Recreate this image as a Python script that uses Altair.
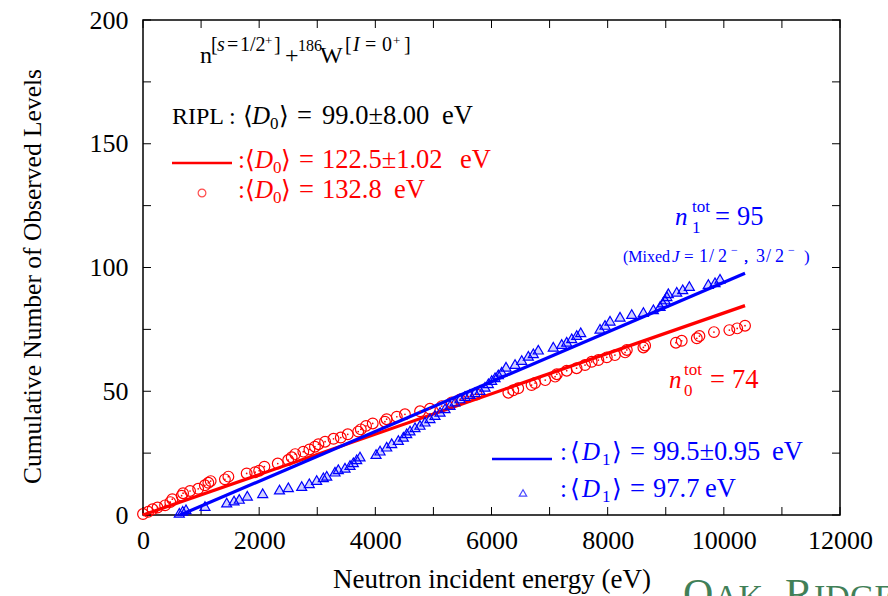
import altair as alt
import pandas as pd

# ---------------- data ----------------
red_E = [0, 90, 165, 250, 380, 470, 505, 665, 690, 810, 950, 1065, 1125, 1165, 1410, 1470,
         1785, 1930, 2000, 2090, 2320, 2500, 2560, 2620, 2760, 2865, 2960, 3020, 3135, 3280,
         3405, 3525, 3705, 3750, 3840, 3955, 4165, 4195, 4370, 4510, 4770, 4940, 5145, 5315,
         5460, 5600, 5745, 6290, 6375, 6460, 6690, 6750, 6925, 7095, 7125, 7295, 7465, 7610,
         7725, 7840, 7985, 8125, 8300, 8330, 8615, 8645, 9175, 9275, 9535, 9580, 9830, 10095,
         10230, 10365]
red_N = [0.4, 1.3, 2.3, 3.0, 3.9, 5.2, 6.4, 7.8, 8.8, 9.7, 10.6, 12.0, 13.0, 13.7, 14.4, 15.5,
         16.8, 17.3, 17.9, 19.5, 20.8, 22.2, 23.3, 24.6, 25.6, 26.5, 27.6, 28.6, 29.6, 30.8,
         31.3, 32.6, 33.7, 34.6, 36.0, 37.0, 37.7, 38.7, 39.7, 40.7, 41.9, 42.9, 44.0, 45.5,
         46.7, 47.8, 48.7, 49.4, 50.4, 51.2, 52.5, 53.3, 54.5, 55.9, 56.9, 58.3, 59.3, 60.6,
         61.9, 62.6, 63.7, 64.6, 65.7, 66.7, 67.7, 68.5, 69.6, 70.4, 71.4, 72.3, 73.9, 74.7,
         75.4, 76.5]

blue_E = [625, 683, 740, 1067, 1441, 1567, 1658, 1796, 2061, 2350,
          2502, 2732, 2863, 2990, 3105, 3163, 3306, 3363, 3478, 3564, 3621, 3679, 3736, 4012,
          4081, 4196, 4282, 4396, 4482, 4540,
          4597, 4683, 4769, 4855, 4941, 5027, 5114, 5200, 5286, 5372, 5458, 5544, 5630, 5716,
          5802, 5888, 5946, 6003, 6061, 6118, 6176, 6250, 6405, 6520, 6634, 6720, 6806,
          7064, 7209, 7295, 7381, 7467, 7536, 7868, 7955, 8041, 8213, 8414, 8615, 8787, 8902,
          8948, 8988, 9020, 9045, 9189, 9292, 9406, 9733, 9848, 9934]
blue_N = [0.9, 1.7, 2.3, 3.6, 5.0, 5.8, 6.5, 7.8, 8.8, 10.3,
          11.2, 11.7, 12.8, 14.1, 15.2, 15.8, 17.5, 18.5, 19.1, 20.2, 21.3, 22.5, 23.6, 24.6,
          26.0, 27.6, 29.0, 30.3, 31.6, 33.0,
          34.1, 35.4, 36.4, 37.7, 39.1, 40.4, 41.7, 43.1, 44.4, 45.8, 47.1, 48.1, 48.9, 49.6,
          50.5, 51.8, 53.2, 54.5, 55.6, 56.8, 57.9, 59.9, 61.0, 62.6, 64.3, 65.3, 66.8,
          68.0, 69.1, 70.0, 71.4, 72.7, 73.8, 75.2, 76.8, 78.5, 80.1, 81.2, 82.0, 83.1, 84.4,
          85.8, 87.1, 88.4, 89.6, 90.2, 91.2, 92.5, 93.3, 94.0, 95.4]

red_fit_E = [0, 10365]
red_fit_N = [0, 84.6]
blue_fit_E = [640, 10365]
blue_fit_N = [0, 97.7]

x_ticks = list(range(0, 12001, 1000))
x_labels = list(range(0, 12001, 2000))
y_ticks = list(range(0, 201, 25))
y_labels = list(range(0, 201, 50))

# ---------------- layout / style ----------------
W, H = 697, 495
X0, Y0 = 143, 20
XMAX, YMAX = 12000, 200
FONT = "Liberation Serif"
RED = "#ff0000"
BLUE = "#0000ff"
TICK = 8

xs = alt.Scale(domain=[0, XMAX], nice=False, zero=False)
ys = alt.Scale(domain=[0, YMAX], nice=False, zero=False)

red_df = pd.DataFrame({"E": red_E, "N": red_N})
blue_df = pd.DataFrame({"E": blue_E, "N": blue_N})
red_fit = pd.DataFrame({"E": red_fit_E, "N": red_fit_N})
blue_fit = pd.DataFrame({"E": blue_fit_E, "N": blue_fit_N})

x_axis = alt.Axis(values=x_labels, title="Neutron incident energy (eV)", ticks=False, tickSize=0,
                  domain=False, grid=False, labelFont=FONT, labelFontSize=26, labelColor="black",
                  labelPadding=12, labelFlush=False, labelOverlap=False, format="d",
                  titleFont=FONT, titleFontSize=27, titleFontWeight="normal", titleColor="black",
                  titlePadding=13)
y_axis = alt.Axis(values=y_labels, title="Cumulative Number of Observed Levels", ticks=False,
                  tickSize=0, domain=False, grid=False, labelFont=FONT, labelFontSize=26,
                  labelColor="black", labelPadding=15, labelFlush=False, labelOverlap=False,
                  format="d", titleFont=FONT, titleFontSize=25.5, titleFontWeight="normal",
                  titleColor="black", titlePadding=44, titleY=256)


def XE():
    return alt.X("E:Q", scale=xs, axis=x_axis)


def YN():
    return alt.Y("N:Q", scale=ys, axis=y_axis)


red_pts = alt.Chart(red_df).mark_point(shape="circle", filled=False, color=RED, size=115,
                                       strokeWidth=1.2, opacity=1).encode(x=XE(), y=YN())
red_dots = alt.Chart(red_df).mark_point(shape="circle", filled=True, color=RED, size=3,
                                        opacity=1).encode(x=XE(), y=YN())
blue_pts = alt.Chart(blue_df).mark_point(shape="triangle-up", fill=BLUE, fillOpacity=0.18,
                                         stroke=BLUE, size=100, strokeWidth=1.2,
                                         opacity=1).encode(x=XE(), y=YN())
red_line = alt.Chart(red_fit).mark_line(color=RED, strokeWidth=3.2).encode(x=XE(), y=YN())
blue_line = alt.Chart(blue_fit).mark_line(color=BLUE, strokeWidth=3.2).encode(x=XE(), y=YN())

# inward ticks on all four sides
xt = pd.DataFrame({"E": x_ticks})
yt = pd.DataFrame({"N": y_ticks})
tick_b = alt.Chart(xt).mark_rule(color="black", strokeWidth=1).encode(
    x=XE(), y=alt.value(H), y2=alt.value(H - TICK))
tick_t = alt.Chart(xt).mark_rule(color="black", strokeWidth=1).encode(
    x=XE(), y=alt.value(0), y2=alt.value(TICK))
tick_l = alt.Chart(yt).mark_rule(color="black", strokeWidth=1).encode(
    y=YN(), x=alt.value(0), x2=alt.value(TICK))
tick_r = alt.Chart(yt).mark_rule(color="black", strokeWidth=1).encode(
    y=YN(), x=alt.value(W), x2=alt.value(W - TICK))


# ---------------- annotations (page pixel layout -> data units) ----------------
def to_E(px):
    return (px - X0) / W * XMAX


def to_N(py):
    return (H - (py - Y0)) / H * YMAX


K, R, B = "black", RED, BLUE
M, V, S, P, SS = 25, 26.5, 17, 20, 13   # main, values, subscript, superscript, tiny
normal_segs = [
    # title line
    ("n", 200, 63, 24, K), ("[", 211, 51, P, K), ("=", 227, 51, P, K), ("1/2", 240, 51, P, K),
    ("+", 265, 45, SS, K), ("]", 274, 51, P, K),
    ("+", 285, 63, 24, K), ("186", 298, 51, 16, K), ("W", 320, 63, 24, K),
    ("[", 345, 51, P, K), ("=", 365, 51, P, K), ("0", 382, 51, P, K), ("+", 393, 45, SS, K),
    ("]", 404, 51, P, K),
    # RIPL line
    ("RIPL :", 172, 124, 24, K), ("⟨", 243, 124, M, K), ("0", 270, 129, S, K),
    ("⟩", 279, 124, M, K), ("=", 297, 124, V, K), ("99.0±8.00", 322, 124, V, K),
    ("eV", 442, 124, V, K),
    # red legend
    (":", 238, 168, M, R), ("⟨", 245, 168, M, R), ("0", 273, 173, S, R), ("⟩", 281, 168, M, R),
    ("=", 299, 168, V, R), ("122.5±1.02", 322, 168, V, R), ("eV", 460, 168, V, R),
    (":", 238, 198, M, R), ("⟨", 245, 198, M, R), ("0", 273, 203, S, R), ("⟩", 281, 198, M, R),
    ("=", 299, 198, V, R), ("132.8", 322, 198, V, R), ("eV", 394, 198, V, R),
    # n0 tot
    ("tot", 684, 375, S, R), ("0", 684, 396, S, R), ("=", 710, 388, V, R), ("74", 732, 388, V, R),
    # n1 tot
    ("tot", 692, 212, S, B), ("1", 692, 233, S, B), ("=", 715, 225, V, B), ("95", 737, 225, V, B),
    ("(Mixed", 623, 262, 16, B), ("=", 684, 262, S, B),
    ("1", 699, 262, 18, B), ("/", 709, 262, 18, B), ("2", 718, 262, 18, B),
    ("−", 731, 254, 12, B), (",", 744, 262, S, B),
    ("3", 756, 262, 18, B), ("/", 766, 262, 18, B), ("2", 775, 262, 18, B),
    ("−", 788, 254, 12, B), (",", 744, 262, S, B), (")", 804, 262, S, B),
    # blue legend
    (":", 560, 460, M, B), ("⟨", 570, 460, M, B), ("1", 602, 465, S, B), ("⟩", 612, 460, M, B),
    ("=", 630, 460, V, B), ("99.5±0.95", 653, 460, V, B), ("eV", 772, 460, V, B),
    (":", 560, 497, M, B), ("⟨", 570, 497, M, B), ("1", 602, 502, S, B), ("⟩", 612, 497, M, B),
    ("=", 630, 497, V, B), ("97.7", 653, 497, V, B), ("eV", 705, 497, V, B),
]
italic_segs = [
    ("s", 217, 51, P, K), ("I", 353, 51, P, K), ("D", 252, 124, M, K),
    ("D", 255, 168, M, R), ("D", 255, 198, M, R), ("n", 669, 388, M, R),
    ("n", 675, 225, M, B), ("J", 672, 262, S, B), ("D", 582, 460, M, B), ("D", 582, 497, M, B),
]
GREEN = "#1f6b3b"
wm_segs = [("O", 683, 608, 42, GREEN), ("AK", 714, 608, 34, GREEN),
           ("R", 785, 608, 42, GREEN), ("IDGE", 814, 608, 34, GREEN)]


def seg_df(segs):
    return pd.DataFrame({"t": [s[0] for s in segs], "E": [to_E(s[1]) for s in segs],
                         "N": [to_N(s[2]) for s in segs], "fs": [s[3] for s in segs],
                         "col": [s[4] for s in segs]})


def text_layer(segs, style, opacity=1.0):
    return alt.Chart(seg_df(segs)).mark_text(align="left", baseline="alphabetic", font=FONT,
                                              fontStyle=style, opacity=opacity).encode(
        x=XE(), y=YN(), text="t:N", size=alt.Size("fs:Q", scale=None, legend=None),
        color=alt.Color("col:N", scale=None, legend=None))


txt_n = text_layer(normal_segs, "normal")
txt_i = text_layer(italic_segs, "italic")
txt_wm = text_layer(wm_segs, "normal", 0.85)

leg_lines = pd.DataFrame({"E": [to_E(172), to_E(492)], "E2": [to_E(232), to_E(552)],
                          "N": [to_N(163), to_N(459)], "col": [RED, BLUE]})
leg_rule = alt.Chart(leg_lines).mark_rule(strokeWidth=2.5).encode(
    x=XE(), x2="E2:Q", y=YN(), color=alt.Color("col:N", scale=None, legend=None))
leg_c = alt.Chart(pd.DataFrame({"E": [to_E(202)], "N": [to_N(193)]})).mark_point(
    shape="circle", filled=False, color=RED, size=60, strokeWidth=1.2).encode(x=XE(), y=YN())
leg_t = alt.Chart(pd.DataFrame({"E": [to_E(523)], "N": [to_N(493)]})).mark_point(
    shape="triangle-up", filled=False, color=BLUE, size=55, strokeWidth=1.2).encode(x=XE(), y=YN())

chart = alt.layer(
    red_pts, txt_wm, tick_b, tick_t, tick_l, tick_r, red_line, blue_line, blue_pts, red_dots,
    leg_rule, leg_c, leg_t, txt_n, txt_i
).properties(
    width=W, height=H,
    autosize=alt.AutoSizeParams(type="none"),
    padding={"left": X0, "top": Y0, "right": 888 - X0 - W, "bottom": 596 - Y0 - H},
    background="white",
).configure_view(stroke="black", strokeWidth=1.5)

chart.save("out.html", embed_options={"renderer": "svg", "actions": False})
